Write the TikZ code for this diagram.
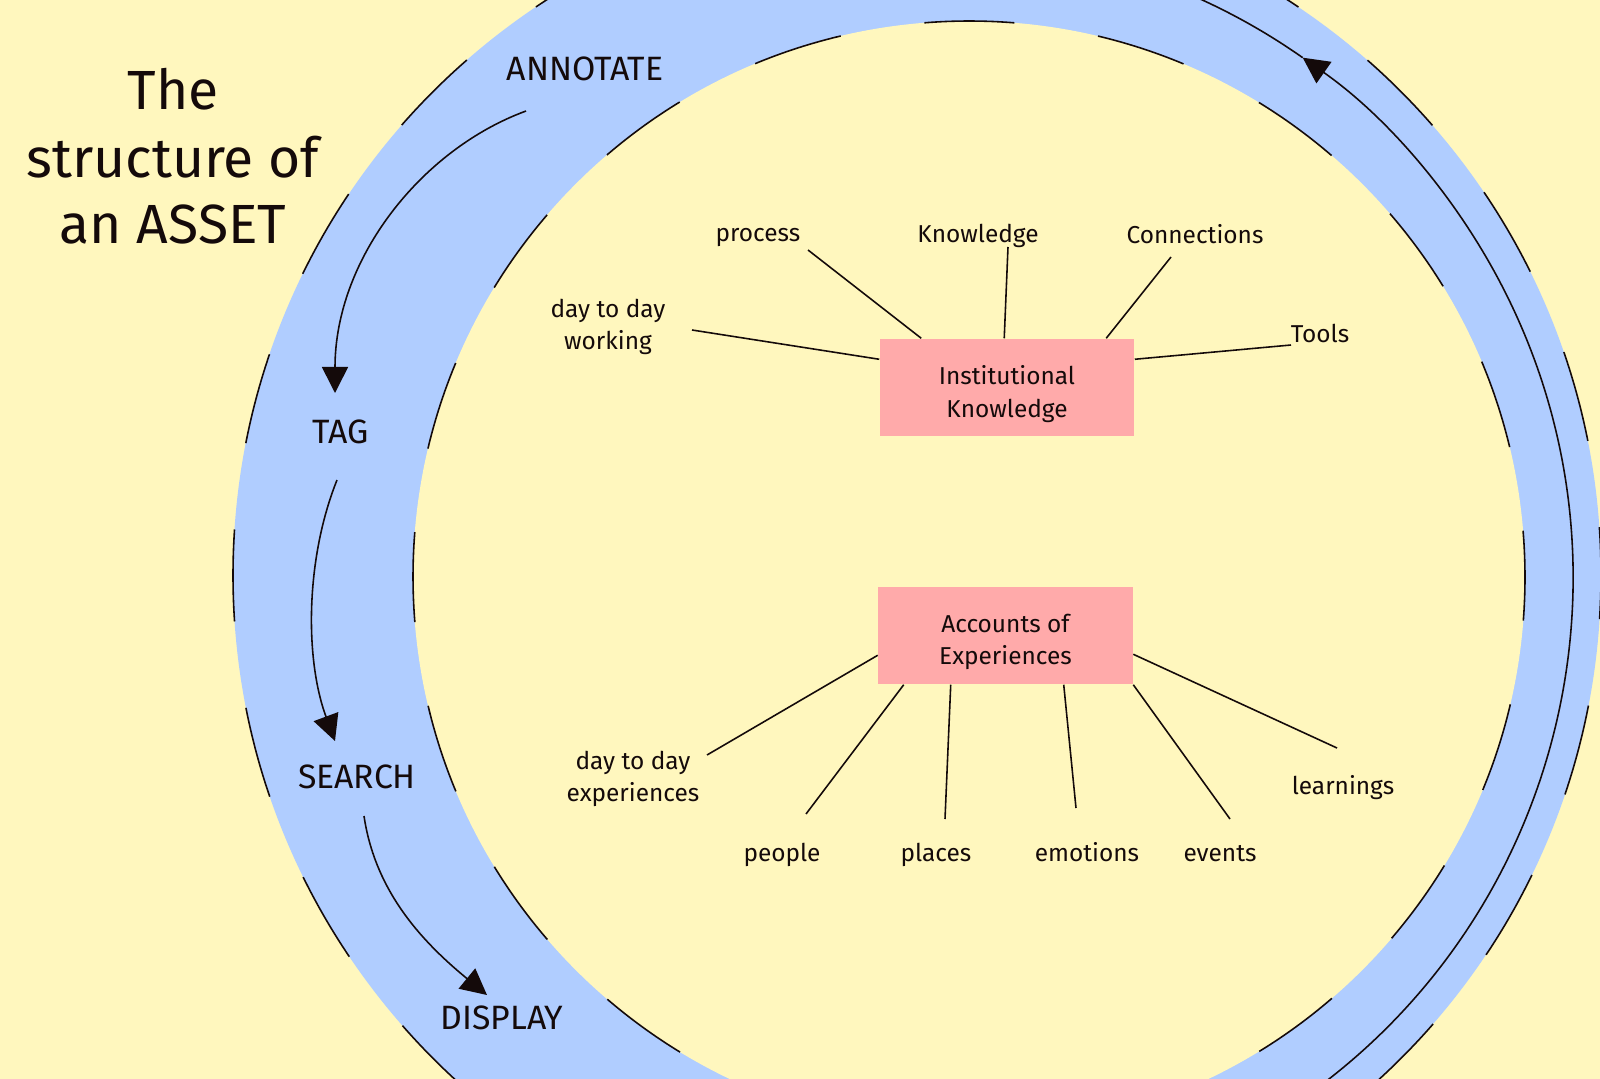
\documentclass[tikz,border=0pt]{standalone}
\usepackage{fontspec}
\setmainfont{Fira Sans}
\usetikzlibrary{arrows.meta,calc}
\definecolor{bgyellow}{RGB}{255,247,190}
\definecolor{ringblue}{RGB}{176,205,255}
\definecolor{boxpink}{RGB}{255,170,170}
\definecolor{inkdark}{RGB}{20,10,10}
\begin{document}
\begin{tikzpicture}[x=0.01cm,y=-0.01cm,
  ring/.style={draw=inkdark, line width=0.45pt},
  link/.style={draw=inkdark, line width=0.45pt},
  flow/.style={draw=inkdark, line width=0.45pt, -{Triangle[length=0.26cm,width=0.26cm]}},
  lbl/.style={font=\fontsize{6.95}{9.2}\selectfont, text=inkdark, inner sep=0pt, align=center},
  stage/.style={font=\fontsize{9.6}{11}\selectfont, text=inkdark, inner sep=0pt, anchor=base},
  ttl/.style={font=\fontsize{15.7}{19}\selectfont, text=inkdark, inner sep=0pt, anchor=base},
  topic/.style={fill=boxpink, minimum width=2.54cm, minimum height=0.97cm, inner sep=0pt}
]
\useasboundingbox (0,0) rectangle (1600,1079);
\fill[bgyellow] (0,0) rectangle (1600,1079);
\begin{scope}
  \clip (0,0) rectangle (1600,1079);
  \fill[ringblue] (917,575) circle[radius=684];
  \fill[bgyellow] (969,577) circle[radius=556];
  \draw[ring, dash pattern=on 0.92cm off 0.871cm] ($(917,575)+(-41.1:684)$) arc[start angle=-41.1, delta angle=-360, radius=684];
  \draw[ring, dash pattern=on 0.90cm off 0.847cm] ($(969,577)+(-49.3:556)$) arc[start angle=-49.3, delta angle=-360, radius=556];
  \coordinate (cyc) at (937,578);
  \draw[flow] ($(cyc)+(62:636)$) arc[start angle=62, end angle=-54.9, radius=636];
  \draw[ring] ($(cyc)+(-54.9:636)$) arc[start angle=-54.9, end angle=-75, radius=636];
\end{scope}

% title
\node[ttl] (t1) at (173,110) {The};
\node[ttl] (t2) at (173,178) {structure of};
\node[ttl] (t3) at (173,243) {an ASSET};

% stages
\node[stage] (annotate) at (585,81) {ANNOTATE};
\node[stage] (tag) at (341,443) {TAG};
\node[stage] (search) at (357,788) {SEARCH};
\node[stage] (display) at (502,1029) {DISPLAY};

\draw[flow] ($(annotate.base)+(-59,30)$) .. controls +(-106,39) and +(0,-133) .. ($(tag.base)+(-6,-50)$);
\draw[flow] ($(tag.base)+(-4,37)$) .. controls +(-32,80) and +(-30,-81) .. ($(search.base)+(-22,-47)$);
\draw[flow] ($(search.base)+(7,28)$) .. controls +(11,74) and +(-67,-55) .. ($(display.base)+(-15,-34)$);

% boxes
\node[topic, label={[lbl, yshift=-0.065cm]center:Institutional\\Knowledge}] (ik) at (1007,387.5) {};
\node[topic, label={[lbl, yshift=-0.065cm]center:Accounts of\\Experiences}] (ae) at (1005.5,635.5) {};

% labels top
\node[lbl] (process) at (758,238) {process};
\node[lbl] (knowledge) at (978,236) {Knowledge};
\node[lbl] (connections) at (1195,234) {Connections};
\node[lbl] (tools) at (1320,333) {Tools};
\node[lbl] (working) at (608,327) {day to day\\working};

\draw[link] ($(process)+(50,12)$) -- ($(ik.north west)+(42,0)$);
\draw[link] ($(knowledge)+(30,11)$) -- ($(ik.north west)+(125,0)$);
\draw[link] ($(connections)+(-24,23)$) -- ($(ik.north west)+(227,0)$);
\draw[link] ($(tools)+(-29,12)$) -- ($(ik.north east)+(0,21)$);
\draw[link] ($(working)+(84,3)$) -- ($(ik.north west)+(0,21)$);

% labels bottom
\node[lbl] (experiences) at (633,779) {day to day\\experiences};
\node[lbl] (people) at (782,855) {people};
\node[lbl] (places) at (936,855) {places};
\node[lbl] (emotions) at (1087,852) {emotions};
\node[lbl] (events) at (1220,854) {events};
\node[lbl] (learnings) at (1343,788) {learnings};

\draw[link] ($(experiences)+(74,-24)$) -- ($(ae.north west)+(0,69)$);
\draw[link] ($(people)+(24,-41)$) -- ($(ae.south west)+(26,0)$);
\draw[link] ($(places)+(9,-36)$) -- ($(ae.south west)+(73,0)$);
\draw[link] ($(emotions)+(-11,-44)$) -- ($(ae.south west)+(186,0)$);
\draw[link] ($(events)+(10,-35)$) -- (ae.south east);
\draw[link] ($(learnings)+(-6,-40)$) -- ($(ae.north east)+(0,68)$);
\end{tikzpicture}
\end{document}
